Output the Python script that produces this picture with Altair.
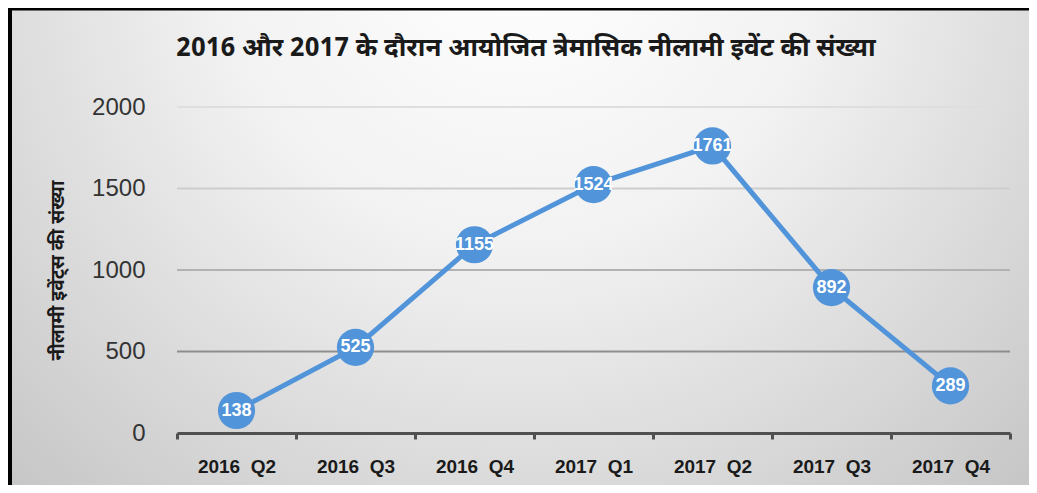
import altair as alt
import pandas as pd

# ---- data ----
quarters = ["2016 Q2", "2016 Q3", "2016 Q4", "2017 Q1", "2017 Q2", "2017 Q3", "2017 Q4"]
counts = [138, 525, 1155, 1524, 1761, 892, 289]
y_ticks = [0, 500, 1000, 1500, 2000]
grid_values = [500, 1000, 1500, 2000]
title_text = "2016 और 2017 के दौरान आयोजित त्रेमासिक नीलामी इवेंट की संख्या"
y_title = "नीलामी इवेंट्स की संख्या"

df = pd.DataFrame({"quarter": quarters, "count": counts})
grid_df = pd.DataFrame({"count": grid_values})

W, H = 833, 326
PL, PT, PR, PB = 169, 99, 19, 52
BLUE = "#5294D9"
HFONT = "Noto Sans Devanagari, Lohit Devanagari, Mukta, Noto Sans, sans-serif"

x_enc = alt.X(
    "quarter:N", sort=quarters, bandPosition=0.5,
    scale=alt.Scale(type="band", paddingInner=0, paddingOuter=0),
    axis=alt.Axis(title=None, labelAngle=0, labelFont="Liberation Sans", labelFontSize=19,
                  labelFontWeight="bold", labelColor="#1a1a1a", labelPadding=18,
                  labelExpr="replace(datum.label, ' ', '\u00a0 ')",
                  tickBand="extent", ticks=True, tickSize=6, tickWidth=3, tickColor="#505050",
                  domainColor="#505050", domainWidth=3, grid=False, zindex=1),
)
y_enc = alt.Y(
    "count:Q", scale=alt.Scale(domain=[0, 2000], nice=False),
    axis=alt.Axis(values=y_ticks, format="d", title=y_title, titleFont=HFONT, titleFontSize=19,
                  titleFontWeight="bold", titleColor="#1a1a1a", titleX=-120, titleY=163,
                  titleAngle=270, titleBaseline="middle", titleAlign="center",
                  labelFont="Liberation Sans", labelFontSize=24, labelColor="#333333",
                  labelPadding=32, ticks=False, tickSize=0, domain=False, grid=False,
                  zindex=1),
)

one = pd.DataFrame({"k": [0]})

bg = alt.Chart(one).mark_rect(
    fill=alt.RadialGradient(
        gradient="radial",
        stops=[alt.GradientStop(offset=0, color="#ffffff"),
               alt.GradientStop(offset=0.35, color="#f2f2f2"),
               alt.GradientStop(offset=1, color="#bababa")],
        x1=0.5, y1=0.2, r1=0, x2=0.5, y2=0.2, r2=0.85),
).encode(x=alt.value(-PL), x2=alt.value(W + PR), y=alt.value(-PT), y2=alt.value(H + PB))

left_border = alt.Chart(one).mark_rule(color="black", strokeWidth=4).encode(
    x=alt.value(-PL + 2), y=alt.value(-PT), y2=alt.value(H + PB))
top_border = alt.Chart(one).mark_rule(color="black", strokeWidth=3).encode(
    x=alt.value(-PL), x2=alt.value(W + PR), y=alt.value(-PT + 1))

grid = alt.Chart(grid_df).transform_calculate(
    gc="datum.count <= 500 ? '#8e8e8e' : datum.count <= 1000 ? '#b2b2b2' : "
       "datum.count <= 1500 ? '#cdcdcd' : '#dedede'"
).mark_rule(strokeWidth=2).encode(y=y_enc, color=alt.Color("gc:N", scale=None))

base = alt.Chart(df).encode(x=x_enc, y=y_enc)
line = base.mark_line(color=BLUE, strokeWidth=5)
circles = base.mark_circle(size=1385, color=BLUE, opacity=1)
labels = base.mark_text(color="white", fontWeight="bold", fontSize=18, font="Liberation Sans",
                        baseline="middle", align="center").encode(text="count:Q")

title = alt.Chart(one).mark_text(text=title_text, font=HFONT, fontSize=26, fontWeight="bold",
                                 color="#1a1a1a", align="center", baseline="middle").encode(
    x=alt.value(349), y=alt.value(-59))

chart = alt.layer(bg, left_border, top_border, grid, line, circles, labels, title).properties(
    width=W, height=H,
    padding={"left": PL, "top": PT, "right": PR, "bottom": PB},
    autosize=alt.AutoSizeParams(type="none"),
).configure_view(stroke=None)

chart.save("out.html", embed_options={"renderer": "svg", "actions": False})
